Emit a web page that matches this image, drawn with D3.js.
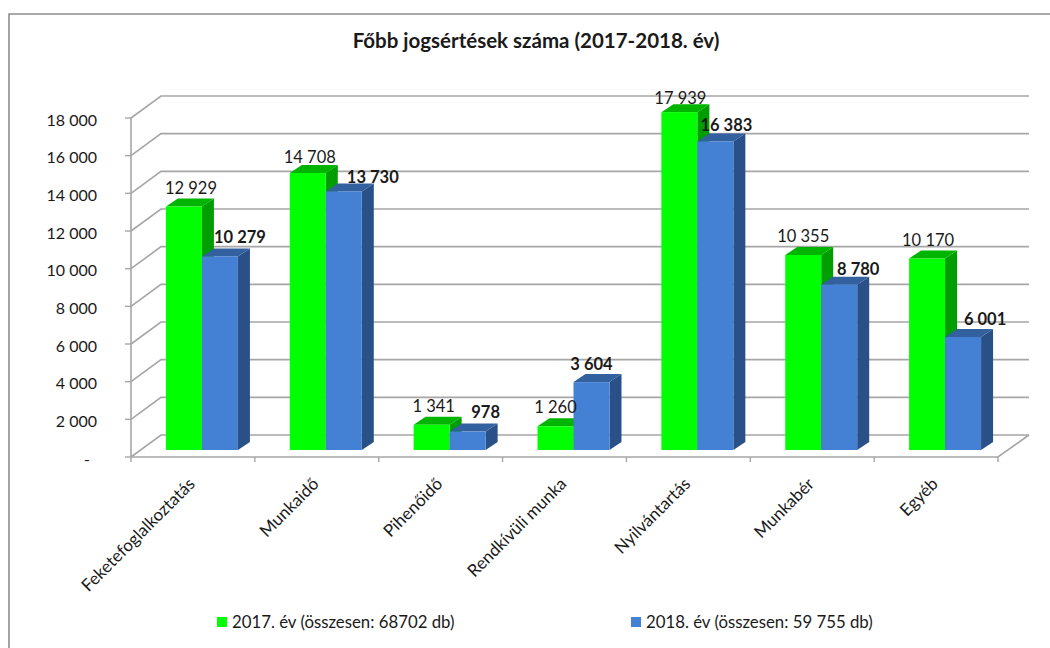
<!DOCTYPE html>
<html><head><meta charset="utf-8">
<script src="https://cdn.jsdelivr.net/npm/d3@7"></script>
<style>html,body{margin:0;background:#fff}svg{display:block}text{font-family:Lato,"Open Sans",sans-serif;fill:#1a1a1a}</style>
</head><body><svg width="1050" height="648"></svg>
<script>
const categories = ["Feketefoglalkoztatás","Munkaidő","Pihenőidő","Rendkívüli munka","Nyilvántartás","Munkabér","Egyéb"];
const values2017 = [12929,14708,1341,1260,17939,10355,10170];
const values2018 = [10279,13730,978,3604,16383,8780,6001];
const yTicks = [0,2000,4000,6000,8000,10000,12000,14000,16000,18000];
const seriesNames = ["2017. év (összesen: 68702 db)","2018. év (összesen: 59 755 db)"];
const chartTitle = "Főbb jogsértések száma (2017-2018. év)";

// hand-placed data label nudges, as in the source chart
const nudge17 = [[7,-13],[2,-10],[2,-13],[0,-14],[1,-9],[0,-13],[1,-13]];
const nudge18 = [[20,-14],[29,-9],[18,-14],[0,-13],[11,-11],[19,-10],[22,-12]];

const fmt = v => v === 0 ? "-" : d3.format(",")(v).replace(/,/g," ");
const svg = d3.select("svg");
svg.append("path").attr("fill","none").attr("stroke","#8c8c8c").attr("stroke-width",1.6)
  .attr("d", d3.line()([[9,648],[9,14],[1050,14]]));

const y = d3.scaleLinear().domain([0,18000]).range([457,118]);
const x = d3.scaleBand().domain(categories).range([131,998]);
const wall = {dx:30, dy:-22}, bar = {dx:9, dy:-7}, depth = {dx:12, dy:-8};
const grid = "#a6a6a6";

const g = svg.append("g");
g.selectAll(".gl").data(yTicks).join("path").attr("fill","none").attr("stroke",grid).attr("stroke-width",1.6)
  .attr("d", t => d3.line()([[131,y(t)],[131+wall.dx,y(t)+wall.dy],[998+wall.dx+1,y(t)+wall.dy]]));
g.append("path").attr("fill","none").attr("stroke",grid).attr("stroke-width",1.6)
  .attr("d", d3.line()([[131,y(18000)],[131,y(0)],[998,y(0)],[998+wall.dx+1,y(0)+wall.dy]]));
g.selectAll(".yt").data(yTicks).join("line").attr("stroke",grid).attr("stroke-width",1.4)
  .attr("x1",125).attr("x2",131).attr("y1",y).attr("y2",y);
g.selectAll(".xt").data(d3.range(8)).join("line").attr("stroke",grid).attr("stroke-width",1.4)
  .attr("x1",i=>131+i*x.step()).attr("x2",i=>131+i*x.step()).attr("y1",457).attr("y2",462);

svg.selectAll(".yl").data(yTicks).join("text").attr("text-anchor","end").attr("font-size",16)
  .attr("x", t => t===0 ? 90 : 97).attr("y", t=>y(t)+7.5).text(fmt);

function drawBar(cat, val, side, c){
  const bw = 36;
  const x0 = x(cat)+x.bandwidth()/2+bar.dx + (side===0?-bw:0);
  const x1 = x0+bw, yb = y(0)+bar.dy, yt = y(val)+bar.dy;
  const p = a => a.map(q=>q.join(",")).join(" ");
  const G = svg.append("g");
  G.append("polygon").attr("fill",c.side).attr("points",p([[x1,yt],[x1+depth.dx,yt+depth.dy],[x1+depth.dx,yb+depth.dy],[x1,yb]]));
  G.append("polygon").attr("fill",c.top).attr("points",p([[x0,yt],[x0+depth.dx,yt+depth.dy],[x1+depth.dx,yt+depth.dy],[x1,yt]]));
  G.append("rect").attr("fill",c.front).attr("x",x0).attr("y",yt).attr("width",bw).attr("height",yb-yt);
  return {x0,x1,yt};
}
const c17 = {front:"#00ff00",top:"#00b400",side:"#009e00"};
const c18 = {front:"#4480d4",top:"#33609f",side:"#2a5088"};
const labels = [];
categories.forEach((c,i)=>{
  const a = drawBar(c,values2017[i],0,c17);
  const b = drawBar(c,values2018[i],1,c18);
  labels.push({x:(a.x0+a.x1)/2+nudge17[i][0],y:a.yt+nudge17[i][1]+0.5,t:fmt(values2017[i]),w:400});
  labels.push({x:(b.x0+b.x1)/2+nudge18[i][0],y:b.yt+nudge18[i][1]+0.5,t:fmt(values2018[i]),w:700});
});
svg.selectAll(".dl").data(labels).join("text").attr("text-anchor","middle").attr("font-size",16.5)
  .attr("font-weight",d=>d.w).attr("x",d=>d.x).attr("y",d=>d.y).text(d=>d.t);

svg.selectAll(".cl").data(categories).join("text").attr("text-anchor","end").attr("font-size",17)
  .attr("transform",c=>`translate(${x(c)+x.bandwidth()/2+3},485) rotate(-45)`).text(c=>c);

svg.append("text").attr("x",536).attr("y",48).attr("text-anchor","middle").attr("font-size",20.5).attr("font-weight",700).text(chartTitle);

const lx = [217,631], lc=["#00ff00","#4480d4"];
seriesNames.forEach((n,i)=>{
  svg.append("rect").attr("x",lx[i]).attr("y",617).attr("width",10).attr("height",10).attr("fill",lc[i]);
  svg.append("text").attr("x",lx[i]+15).attr("y",628).attr("font-size",16.8).text(n);
});
</script></body></html>
